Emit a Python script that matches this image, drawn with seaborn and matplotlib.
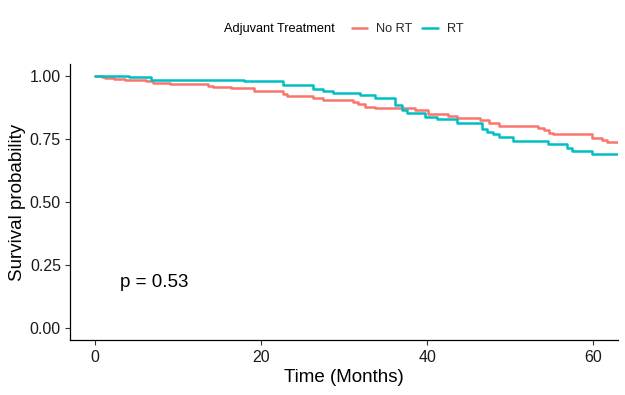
import numpy as np
import pandas as pd
import matplotlib
matplotlib.use("Agg")
import matplotlib.pyplot as plt
import seaborn as sns

groups = ["No RT", "RT"]
colors = ["#F8766D", "#00BFC4"]

time_nort = [0, 0.8, 1.2, 2.3, 3.6, 6.2, 7.0, 9.1, 13.6, 14.2, 16.4, 19.1, 22.7, 23.1,
             26.3, 27.5, 31.1, 31.7, 32.5, 33.7, 38.5, 40.1, 42.5, 43.6, 46.4, 47.5,
             48.7, 53.3, 54.1, 54.7, 55.1, 59.9, 61.0, 61.7, 63.0]
surv_nort = [1.0, 0.996, 0.993, 0.989, 0.985, 0.981, 0.972, 0.968, 0.962, 0.956, 0.952,
             0.943, 0.930, 0.921, 0.914, 0.905, 0.896, 0.888, 0.878, 0.872, 0.864, 0.848,
             0.841, 0.832, 0.824, 0.815, 0.802, 0.795, 0.786, 0.773, 0.769, 0.755, 0.746,
             0.737, 0.737]

time_rt = [0, 4.1, 6.8, 18.0, 22.6, 26.2, 27.5, 28.7, 31.9, 33.7, 36.1, 37.0, 37.6,
           39.7, 41.2, 43.6, 46.6, 47.2, 47.9, 48.7, 50.3, 54.5, 56.9, 57.5, 59.9, 63.0]
surv_rt = [1.0, 0.995, 0.985, 0.979, 0.965, 0.951, 0.940, 0.935, 0.925, 0.912, 0.885,
           0.865, 0.852, 0.838, 0.829, 0.815, 0.792, 0.779, 0.770, 0.759, 0.742, 0.729,
           0.713, 0.702, 0.689, 0.689]

x_ticks = [0, 20, 40, 60]
y_ticks = [0.00, 0.25, 0.50, 0.75, 1.00]
p_text = "p = 0.53"

df = pd.concat([
    pd.DataFrame({"Time": time_nort, "Survival": surv_nort, "Group": groups[0]}),
    pd.DataFrame({"Time": time_rt, "Survival": surv_rt, "Group": groups[1]}),
], ignore_index=True)

sns.set_style("ticks")
plt.rcParams['font.family'] = ['Liberation Sans', 'DejaVu Sans']

fig = plt.figure(figsize=(6.25, 3.95), dpi=100)
ax = fig.add_axes([0.112, 0.138, 0.877, 0.701])

sns.lineplot(data=df, x="Time", y="Survival", hue="Group", hue_order=groups,
             palette=colors, drawstyle="steps-post", linewidth=1.8, ax=ax,
             estimator=None, sort=False)

ax.set_xlim(-3, 63)
ax.set_ylim(-0.05, 1.05)
ax.set_xticks(x_ticks)
ax.set_yticks(y_ticks)
ax.set_yticklabels([f"{v:.2f}" for v in y_ticks])
ax.tick_params(axis="both", labelsize=11.5, colors="#333333", length=3.5, width=0.8,
               direction="out", labelcolor="#1a1a1a", pad=3)
for s in ["top", "right"]:
    ax.spines[s].set_visible(False)
for s in ["left", "bottom"]:
    ax.spines[s].set_color("black")
    ax.spines[s].set_linewidth(0.9)
ax.set_xlabel("Time (Months)", fontsize=13.5, color="black", labelpad=3)
ax.set_ylabel("Survival probability", fontsize=13.5, color="black", labelpad=3)
ax.text(3, 0.18, p_text, fontsize=13.5, ha="left", va="center", color="black")

handles, labels = ax.get_legend_handles_labels()
ax.get_legend().remove()
leg = fig.legend(handles, labels, ncol=2, loc="center left",
                 bbox_to_anchor=(340 / 625, 1 - 29 / 395), frameon=False,
                 fontsize=9.2, handlelength=1.25, handletextpad=0.7, columnspacing=0.7)
for l in leg.get_lines():
    l.set_linewidth(1.8)
fig.text(335 / 625, 1 - 29 / 395, "Adjuvant Treatment", fontsize=9.2, ha="right",
         va="center", color="black")

fig.savefig("out.png", dpi=100)
